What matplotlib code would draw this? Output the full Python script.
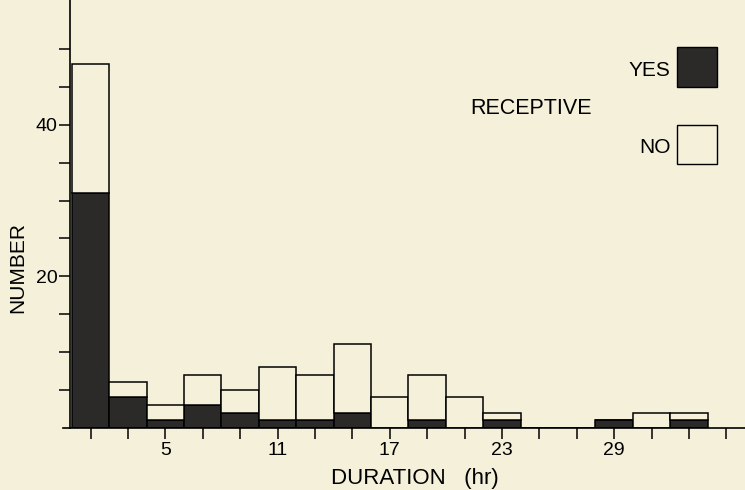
import numpy as np
import matplotlib
matplotlib.use("Agg")
import matplotlib.pyplot as plt
from matplotlib.patches import Rectangle

plt.rcParams['font.family'] = ['Liberation Sans', 'DejaVu Sans']

# bins of 2 hr, left edges
bin_left = np.arange(0, 34, 2)
yes_counts = [31, 4, 1, 3, 2, 1, 1, 2, 0, 1, 0, 1, 0, 0, 1, 0, 1]
total_counts = [48, 6, 3, 7, 5, 8, 7, 11, 4, 7, 4, 2, 0, 0, 1, 2, 2]
no_counts = [t - y for t, y in zip(total_counts, yes_counts)]

xtick_pos = np.arange(1, 36, 2)
xtick_labels = ['5', '11', '17', '23', '29']
ytick_pos = np.arange(5, 55, 5)
ytick_labels = ['20', '40']

bg = '#f4f0da'
dark = '#2b2a28'

fig = plt.figure(figsize=(7.45, 4.9), dpi=100, facecolor=bg)
ax = fig.add_axes([0.094, 0.127, 0.906, 0.873])
ax.set_facecolor(bg)

ax.bar(bin_left, yes_counts, width=2, align='edge', color=dark,
       edgecolor='black', linewidth=1.1)
ax.bar(bin_left, no_counts, width=2, align='edge', bottom=yes_counts,
       color=bg, edgecolor='black', linewidth=1.1)

ax.set_xlim(-0.1, 36)
ax.set_ylim(0, 56.5)

ax.set_xticks(xtick_pos)
ax.set_xticklabels([str(v) if str(v) in xtick_labels else '' for v in xtick_pos],
                   fontsize=14)
ax.set_yticks(ytick_pos)
ax.set_yticklabels([str(v) if str(v) in ytick_labels else '' for v in ytick_pos],
                   fontsize=14)
ax.tick_params(axis='x', length=8, width=1.1, direction='out', pad=2)
ax.tick_params(axis='y', length=8, width=1.1, direction='out', pad=1)

for s in ['top', 'right']:
    ax.spines[s].set_visible(False)
ax.spines['left'].set_linewidth(1.2)
ax.spines['bottom'].set_linewidth(1.2)
ax.spines['bottom'].set_bounds(-0.5, 36)

fig.text(0.557, 0.023, 'DURATION   (hr)', fontsize=16, ha='center', va='center')
ax.set_ylabel('NUMBER', fontsize=15)
ax.yaxis.set_label_coords(-0.064, 0.374)

# legend drawn by hand
fig.text(0.900, 0.857, 'YES', fontsize=15, ha='right', va='center')
fig.text(0.900, 0.700, 'NO', fontsize=15, ha='right', va='center')
fig.text(0.631, 0.779, 'RECEPTIVE', fontsize=15.5, ha='left', va='center')
fig.patches.append(Rectangle((0.909, 0.822), 0.054, 0.082, transform=fig.transFigure,
                             facecolor=dark, edgecolor='black', linewidth=1))
fig.patches.append(Rectangle((0.909, 0.665), 0.054, 0.080, transform=fig.transFigure,
                             facecolor=bg, edgecolor='black', linewidth=1))

fig.savefig('out.png', dpi=100, facecolor=bg)
